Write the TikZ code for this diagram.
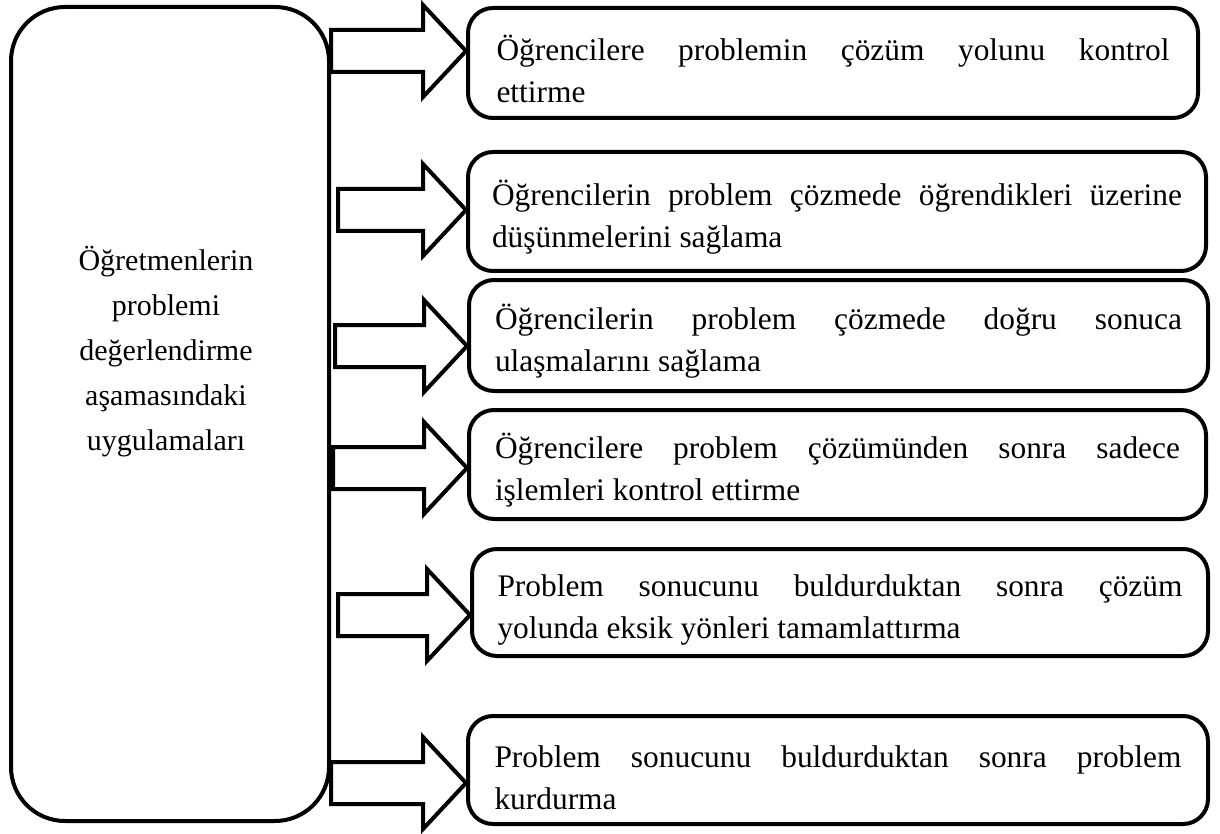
\documentclass[tikz,border=0pt]{standalone}
\usepackage{fontspec}
\setmainfont{Liberation Serif}
\usepackage{tikz}
\usetikzlibrary{calc}

% blok ok: hedef kutu, ok hizasi, kuyruk kaymasi
\newcommand{\blokok}[3]{%
\draw[okcizgi] ($(ana.east|-#2)+(#3,-21)$) -- ($(#1.west|-#2)+(-43,-21)$) -- ++(0,-25)
  -- (#1.west|-#2) -- ++(-43,46) -- ++(0,-25) -- ($(ana.east|-#2)+(#3,21)$) -- cycle;}

\begin{document}
\begin{tikzpicture}[x=0.5pt,y=-0.5pt,
  kutu/.style={draw,line width=2pt,rounded corners=12.5pt,inner sep=0pt,align=justify,
    execute at begin node={\fontsize{15.7pt}{20.75pt}\selectfont\rule{0pt}{18.5pt}}},
  okcizgi/.style={draw,fill=white,line width=2pt,line join=miter}]
\useasboundingbox (0,0) rectangle (1220,834);

% Ana kutu
\node[draw,line width=2pt,rounded corners=27pt,minimum width=159pt,minimum height=407pt] (ana) at (170,414) {};
\node[align=center,font=\fontsize{15pt}{22.5pt}\selectfont] (anayazi) at (166,352)
  {Öğretmenlerin\\problemi\\değerlendirme\\aşamasındaki\\uygulamaları};

% Sagdaki kutular
\node[kutu,minimum width=365pt,minimum height=55pt,text width=336.5pt] (b1) at (833,63)
  {Öğrencilere problemin çözüm yolunu kontrol\linebreak ettirme};
\node[kutu,minimum width=369pt,minimum height=59.5pt,text width=345pt] (b2) at (837,211.5)
  {Öğrencilerin problem çözmede öğrendikleri üzerine\linebreak düşünmelerini sağlama};
\node[kutu,minimum width=369.5pt,minimum height=55.5pt,text width=343.5pt] (b3) at (838.5,335.5)
  {Öğrencilerin problem çözmede doğru sonuca\linebreak ulaşmalarını sağlama};
\node[kutu,minimum width=368.5pt,minimum height=54.5pt,text width=342.5pt] (b4) at (837.5,464.5)
  {Öğrencilere problem çözümünden sonra sadece\linebreak işlemleri kontrol ettirme};
\node[kutu,minimum width=368pt,minimum height=53.5pt,text width=342.5pt] (b5) at (840,602.5)
  {Problem sonucunu buldurduktan sonra çözüm\linebreak yolunda eksik yönleri tamamlattırma};
\node[kutu,minimum width=370pt,minimum height=54pt,text width=343.5pt] (b6) at (838,770)
  {Problem sonucunu buldurduktan sonra problem\linebreak kurdurma};

% Oklar
\coordinate (h1) at (0,51);
\coordinate (h2) at (0,210);
\coordinate (h3) at (0,346);
\coordinate (h4) at (0,468);
\coordinate (h5) at (0,615);
\coordinate (h6) at (0,783);
\blokok{b1}{h1}{0}
\blokok{b2}{h2}{7}
\blokok{b3}{h3}{4}
\blokok{b4}{h4}{2}
\blokok{b5}{h5}{7}
\blokok{b6}{h6}{0}
\end{tikzpicture}
\end{document}
